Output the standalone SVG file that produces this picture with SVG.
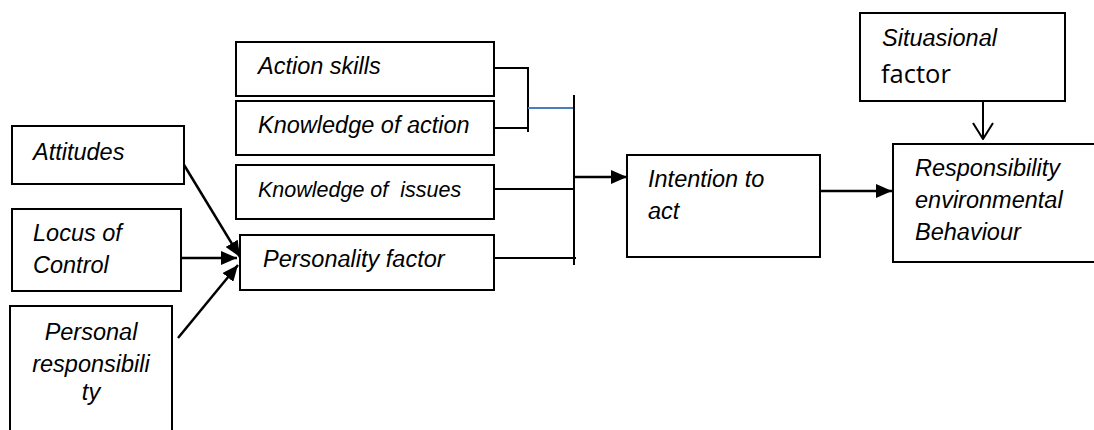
<svg xmlns="http://www.w3.org/2000/svg" width="1094" height="430" viewBox="0 0 1094 430">
<style>
.box{fill:#fff;stroke:#000;stroke-width:2}
.t{font-family:"Liberation Sans",Arial,sans-serif;font-style:italic;font-size:23.5px;fill:#000}
.ln{stroke:#000;stroke-width:2;fill:none}
.ar{stroke:#000;stroke-width:2.5;fill:none}
</style>
<defs>
<marker id="ah" viewBox="0 0 16 14" refX="16" refY="7" markerWidth="16" markerHeight="14" markerUnits="userSpaceOnUse" orient="auto">
<path d="M0,0 L16,7 L0,14 Z" fill="#000"/>
</marker>
<marker id="av" viewBox="0 0 22 18" refX="11" refY="17" markerWidth="22" markerHeight="18" markerUnits="userSpaceOnUse" orient="0">
<path d="M1,1 L11,17 L21,1" fill="none" stroke="#000" stroke-width="2"/>
</marker>
</defs>
<rect width="1094" height="430" fill="#fff"/>
<g id="connectors">
<path class="ln" d="M494,68 H528 V132 M494,128 H528"/>
<path d="M528,108 H574" stroke="#4a7ebb" stroke-width="2"/>
<path class="ln" d="M574,95 V265"/>
<path class="ln" d="M494,189 H574 M494,258 H576"/>
<path class="ar" d="M574,177 H627" marker-end="url(#ah)"/>
<path class="ar" d="M820,191 H892" marker-end="url(#ah)"/>
<path class="ln" d="M983,101 V139" marker-end="url(#av)"/>
<path class="ar" d="M178,155 L240,257" marker-end="url(#ah)"/>
<path class="ar" d="M177,258 H237" marker-end="url(#ah)"/>
<path class="ar" d="M178,338 L238,265" marker-end="url(#ah)"/>
</g>
<g id="action-skills">
<rect class="box" x="236" y="42" width="258" height="54"/>
<text class="t" x="258" y="74">Action skills</text>
</g>
<g id="knowledge-action">
<rect class="box" x="236" y="101" width="258" height="54"/>
<text class="t" x="258" y="133">Knowledge of action</text>
</g>
<g id="knowledge-issues">
<rect class="box" x="236" y="165" width="258" height="54"/>
<text class="t" x="258" y="197" style="font-size:21.5px;white-space:pre" xml:space="preserve">Knowledge of  issues</text>
</g>
<g id="personality">
<rect class="box" x="240" y="235" width="254" height="55"/>
<text class="t" x="263" y="267">Personality factor</text>
</g>
<g id="attitudes">
<rect class="box" x="12" y="126" width="172" height="58"/>
<text class="t" x="33" y="160">Attitudes</text>
</g>
<g id="locus">
<rect class="box" x="12" y="209" width="169" height="82"/>
<text class="t" x="33" y="241">Locus of</text>
<text class="t" x="33" y="273">Control</text>
</g>
<g id="personal">
<rect class="box" x="10" y="306" width="162" height="130"/>
<text class="t" x="91" y="340" text-anchor="middle">Personal</text>
<text class="t" x="91" y="372" text-anchor="middle">responsibili</text>
<text class="t" x="91" y="400" text-anchor="middle">ty</text>
</g>
<g id="intention">
<rect class="box" x="627" y="155" width="193" height="102"/>
<text class="t" x="648" y="187">Intention to</text>
<text class="t" x="648" y="219">act</text>
</g>
<g id="situational">
<rect class="box" x="860" y="13" width="205" height="88"/>
<text class="t" x="882" y="46">Situasional</text>
<text x="881" y="83" style="font-family:'Open Sans','Noto Sans',sans-serif;font-size:25.5px;fill:#000">factor</text>
</g>
<g id="behaviour">
<rect class="box" x="893" y="144" width="210" height="118"/>
<text class="t" x="915" y="176">Responsibility</text>
<text class="t" x="915" y="208">environmental</text>
<text class="t" x="915" y="240">Behaviour</text>
</g>
</svg>
